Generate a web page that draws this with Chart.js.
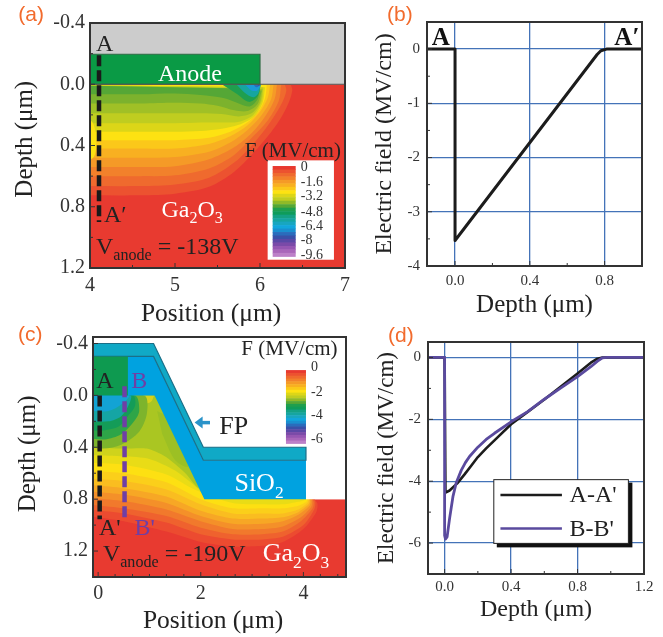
<!DOCTYPE html>
<html>
<head>
<meta charset="utf-8">
<title>Ga2O3 field profiles</title>
<script src="https://cdn.jsdelivr.net/npm/chart.js@4/dist/chart.umd.js"></script>
<style>
  html, body { margin: 0; padding: 0; background: #fff; }
  #page { position: relative; width: 663px; height: 637px; overflow: hidden; }
  canvas { position: absolute; filter: blur(0.4px); }
</style>
</head>
<body>
<div id="page">
  <canvas id="a" width="360" height="332" style="left:0;top:0"></canvas>
  <canvas id="b" width="303" height="325" style="left:360px;top:0"></canvas>
  <canvas id="c" width="360" height="317" style="left:0;top:320px"></canvas>
  <canvas id="d" width="303" height="317" style="left:360px;top:320px"></canvas>
</div>
<script>
  var SERIF = "'Liberation Serif'";
  var INK = "#222";
  var RED = "#e83a30";
  var GRID_BLUE = "#4473b8";

  // ---- ticks -------------------------------------------------------------
  var A_X_MAJOR = [4, 5, 6, 7];
  var A_X_MINOR = [4.5, 5.5, 6.5];
  var A_Y_MAJOR = [-0.4, 0, 0.4, 0.8, 1.2];
  var A_Y_MINOR = [-0.2, 0.2, 0.6, 1.0];
  var B_X_MAJOR = [0, 0.4, 0.8];
  var B_X_MINOR = [0.2, 0.6, 1.0];
  var B_Y_MAJOR = [0, -1, -2, -3, -4];
  var B_Y_MINOR = [-0.5, -1.5, -2.5, -3.5];
  var C_X_MAJOR = [0, 2, 4];
  var C_X_MINOR = [0.33, 0.67, 1, 1.33, 1.67, 2.33, 2.67, 3, 3.33, 3.67, 4.33, 4.67];
  var C_Y_MAJOR = [-0.4, 0, 0.4, 0.8, 1.2];
  var C_Y_MINOR = [-0.2, 0.2, 0.6, 1.0];
  var D_X_MAJOR = [0, 0.4, 0.8, 1.2];
  var D_X_MINOR = [0.2, 0.6, 1.0];
  var D_Y_MAJOR = [0, -2, -4, -6];
  var D_Y_MINOR = [-1, -3, -5];

  // ---- line profiles -----------------------------------------------------
  var B_PROFILE = [[-0.15, 0], [0, 0], [0, -3.53], [0.76, -0.1], [0.78, -0.03], [0.81, 0], [1.0, 0]];
  var D_PROFILE_A = [[-0.1, 0], [0, 0], [0.005, -4.37], [0.03, -4.3], [0.076, -4.07], [0.12, -3.78], [0.16, -3.5], [0.2, -3.22], [0.25, -2.94], [0.3, -2.68], [0.4, -2.16], [0.5, -1.76], [0.6, -1.36], [0.7, -0.94], [0.8, -0.52], [0.88, -0.17], [0.92, -0.04], [0.95, 0], [1.2, 0]];
  var D_PROFILE_B = [[-0.1, 0], [0, 0], [0, -5.75], [0.005, -5.87], [0.015, -5.8], [0.03, -5.2], [0.05, -4.5], [0.07, -4.05], [0.1, -3.65], [0.125, -3.4], [0.15, -3.2], [0.2, -2.9], [0.25, -2.65], [0.3, -2.45], [0.4, -2.08], [0.5, -1.75], [0.6, -1.35], [0.7, -0.98], [0.8, -0.62], [0.88, -0.3], [0.92, -0.12], [0.95, -0.01], [0.98, 0], [1.2, 0]];

  // ---- cut lines ---------------------------------------------------------
  var A_CUT = [[4.106, -0.19], [4.106, 0.9]];
  var C_CUT_A = [[0.03, 0], [0.03, 0.954]];
  var C_CUT_B = [[0.515, -0.07], [0.515, 0.954]];

  // ---- device outlines ---------------------------------------------------
  var A_AIR = [[4, -0.4], [7, -0.4], [7, 0], [4, 0]];
  var A_ANODE = [[4, -0.196], [6, -0.196], [6, 0], [4, 0], [4, -0.196]];
  var C_SUBSTRATE = [[-0.1, 0], [1.1, 0], [2.05, 0.8], [4.83, 0.8], [4.83, 1.4], [-0.1, 1.4]];
  var C_AIR = [[-0.1, -0.45], [4.83, -0.45], [4.83, 0.8], [4.05, 0.8], [4.05, 0.4], [2.05, 0.4], [1.08, -0.4], [-0.1, -0.4]];
  var C_OXIDE = [[-0.1, -0.3], [1.08, -0.3], [2.05, 0.5], [4.05, 0.5], [4.05, 0.8], [2.07, 0.8], [1.1, 0], [-0.1, 0]];
  var C_PLATE = [[-0.1, -0.4], [1.08, -0.4], [2.05, 0.4], [4.05, 0.4], [4.05, 0.5], [2.05, 0.5], [1.08, -0.3], [-0.1, -0.3], [-0.1, -0.4]];
  var C_ANODE = [[-0.1, -0.3], [0.58, -0.3], [0.58, 0], [-0.1, 0]];

  // ---- panel (a) field contours, outer to inner ----------------------------
  var A_BANDS = [
    [[3, 0.725], [3.8, 0.725], [4.6, 0.725], [5, 0.715], [5.4, 0.67], [5.7, 0.57], [6.0, 0.4], [6.2, 0.26], [6.33, 0.13], [6.38, 0.04], [6.36, 0]],
    [[3, 0.665], [3.8, 0.665], [4.6, 0.665], [5, 0.655], [5.4, 0.61], [5.7, 0.51], [5.95, 0.37], [6.13, 0.24], [6.26, 0.12], [6.31, 0.04], [6.29, 0]],
    [[3, 0.6], [3.8, 0.6], [4.6, 0.6], [5, 0.595], [5.4, 0.55], [5.7, 0.46], [5.92, 0.34], [6.1, 0.23], [6.22, 0.11], [6.25, 0]],
    [[3, 0.54], [3.8, 0.54], [4.6, 0.54], [5, 0.535], [5.4, 0.49], [5.7, 0.41], [5.9, 0.32], [6.06, 0.21], [6.17, 0.1], [6.2, 0]],
    [[3, 0.48], [3.8, 0.48], [4.6, 0.48], [5, 0.475], [5.4, 0.44], [5.65, 0.38], [5.85, 0.3], [6.02, 0.2], [6.13, 0.1], [6.16, 0]],
    [[3, 0.42], [3.8, 0.42], [4.6, 0.42], [5, 0.42], [5.4, 0.39], [5.65, 0.34], [5.85, 0.27], [6.0, 0.18], [6.09, 0.09], [6.12, 0]],
    [[3, 0.365], [3.8, 0.365], [4.6, 0.365], [5, 0.365], [5.4, 0.35], [5.65, 0.31], [5.85, 0.25], [5.98, 0.18], [6.06, 0.09], [6.08, 0]],
    [[3, 0.31], [3.8, 0.31], [4.6, 0.31], [5, 0.31], [5.3, 0.305], [5.55, 0.29], [5.75, 0.265], [5.93, 0.21], [6.03, 0.12], [6.06, 0.02]],
    [[3, 0.255], [3.8, 0.255], [4.6, 0.255], [5, 0.255], [5.3, 0.25], [5.55, 0.25], [5.75, 0.245], [5.92, 0.2], [6.02, 0.11], [6.04, 0.02]],
    [[3, 0.19], [3.8, 0.19], [4.6, 0.19], [5, 0.19], [5.3, 0.19], [5.55, 0.195], [5.75, 0.21], [5.9, 0.19], [6.0, 0.12], [6.03, 0.03]],
    [[3, 0.125], [3.8, 0.125], [4.6, 0.125], [5, 0.12], [5.3, 0.125], [5.5, 0.14], [5.7, 0.17], [5.85, 0.175], [5.97, 0.13], [6.02, 0.04]],
    [[3, 0.065], [3.8, 0.065], [4.6, 0.065], [5, 0.06], [5.3, 0.07], [5.57, 0.09], [5.75, 0.125], [5.88, 0.145], [5.97, 0.1], [6.0, 0.03]]
  ];
  var A_BAND_COLORS = ["#ec5230", "#ef6a2e", "#f2812b", "#f59a27", "#f8b021", "#fbc81a", "#fde212", "#dcd618", "#bfcd20", "#a0c026", "#7cb22d", "#55a736"];
  var A_EDGE = [[3.9, 0.2], [4.03, 0.25], [4.07, 0.35], [4.05, 0.47], [3.9, 0.52]];
  var A_SPOTS = [
    [[5.55, 0], [5.72, 0.06], [5.87, 0.115], [5.97, 0.08], [6.01, 0]],
    [[5.72, 0], [5.82, 0.055], [5.92, 0.085], [5.98, 0.06], [6.01, 0]],
    [[5.82, 0], [5.9, 0.04], [5.97, 0.04], [6.01, 0]],
    [[5.92, 0], [5.96, 0.02], [6.01, 0]],
    [[5.96, 0], [5.985, 0.012], [6.01, 0]]
  ];
  var A_SPOT_COLORS = ["#1f9f4e", "#16a5a0", "#1a9ad8", "#2a6cbc", "#3a50a8"];

  // ---- panel (c) field contours, outer to inner ----------------------------
  var C_BANDS = [
    [[-0.2, 0.93], [0.5, 0.97], [1.33, 1.05], [2, 1.13], [2.62, 1.165], [3.2, 1.16], [3.6, 1.13], [4.0, 1.03], [4.25, 0.9], [4.27, 0.83], [4.1, 0.76]],
    [[-0.2, 0.88], [0.5, 0.91], [1.33, 0.98], [2, 1.07], [2.62, 1.11], [3.2, 1.11], [3.6, 1.09], [4.0, 1.0], [4.21, 0.88], [4.23, 0.82], [4.1, 0.76]],
    [[-0.2, 0.84], [0.5, 0.87], [1.33, 0.93], [2, 1.02], [2.62, 1.07], [3.2, 1.07], [3.6, 1.05], [3.95, 0.97], [4.18, 0.87], [4.2, 0.82], [4.1, 0.76]],
    [[-0.2, 0.79], [0.5, 0.815], [1.33, 0.88], [2, 0.97], [2.62, 1.03], [3.2, 1.03], [3.6, 1.01], [3.95, 0.94], [4.15, 0.86], [4.17, 0.81], [4.1, 0.76]],
    [[-0.2, 0.74], [0.5, 0.765], [1.33, 0.83], [2, 0.93], [2.62, 0.99], [3.2, 0.99], [3.6, 0.97], [3.9, 0.92], [4.12, 0.85], [4.14, 0.81], [4.05, 0.76]],
    [[-0.2, 0.69], [0.5, 0.715], [1.33, 0.78], [2, 0.89], [2.62, 0.95], [3.2, 0.95], [3.6, 0.94], [3.9, 0.9], [4.1, 0.84], [4.12, 0.81], [4.05, 0.76]],
    [[-0.2, 0.64], [0.5, 0.66], [1.33, 0.725], [2, 0.84], [2.62, 0.91], [3.2, 0.91], [3.6, 0.91], [3.9, 0.88], [4.08, 0.83], [4.1, 0.8], [4.05, 0.76]],
    [[-0.2, 0.58], [0.5, 0.6], [1.33, 0.67], [2, 0.8], [2.62, 0.87], [3.2, 0.87], [3.6, 0.87], [3.9, 0.85], [4.06, 0.82], [4.07, 0.8], [4.05, 0.76]],
    [[-0.2, 0.52], [0.5, 0.535], [1.33, 0.61], [1.9, 0.73], [2.62, 0.83], [3.2, 0.84], [3.6, 0.84], [3.9, 0.82], [4.05, 0.8], [4.05, 0.76]],
    [[-0.2, 0.46], [0.5, 0.47], [1.0, 0.49], [1.5, 0.58], [1.95, 0.72], [2.1, 0.78]],
    [[-0.2, 0.4], [0.5, 0.41], [0.95, 0.41], [1.3, 0.47], [1.7, 0.6], [2.0, 0.72]]
  ];
  var C_BAND_COLORS = ["#ec4b30", "#ef622e", "#f1792c", "#f49029", "#f7a725", "#fabd20", "#fbcf1a", "#fde012", "#e9dc16", "#cfd31c", "#aac622"];
  var C_BAND_CLOSE = [[3, 0.6], [2.05, 0.6], [1.1, -0.15], [-0.2, -0.15]];
  var C_SPOTS = [
    [[0.7, 0], [0.88, 0.06], [1.03, 0.05], [1.09, 0]],
    [[-0.2, 0.4], [0.1, 0.41], [0.45, 0.38], [0.8, 0.28], [0.95, 0.14], [0.9, 0], [-0.2, 0]],
    [[-0.2, 0.33], [0.13, 0.34], [0.45, 0.3], [0.7, 0.2], [0.8, 0.12], [0.72, 0], [-0.2, 0]],
    [[-0.2, 0.27], [0.1, 0.27], [0.4, 0.24], [0.6, 0.15], [0.72, 0.08], [0.68, 0], [-0.2, 0]],
    [[-0.2, 0.2], [0.2, 0.2], [0.45, 0.16], [0.6, 0.07], [0.63, 0], [-0.2, 0]],
    [[-0.2, 0.12], [0.2, 0.12], [0.45, 0.07], [0.6, 0], [-0.2, 0]]
  ];
  var C_SPOT_COLORS = ["#d8d21a", "#7db42c", "#2ea548", "#149c58", "#15a5a4", "#13a3d4"];
  var C_SLOPE_PATCH = [[1.15, 0.12], [1.4, 0.18], [1.6, 0.4], [1.75, 0.55], [1.5, 0.5], [1.25, 0.3]];

  // ---- colour scale ------------------------------------------------------
  var SCALE_COLORS = ["#e8392f", "#ec5230", "#ef6a2e", "#f2812b", "#f59a27", "#f8b021", "#fbc81a", "#fde212", "#dcd618", "#bfcd20", "#90ba28", "#55a736", "#1f9f4e", "#0f9c5a", "#14a184", "#16a5a0", "#18a6c0", "#12a6dc", "#1a8fd0", "#2a6cbc", "#3a50a8", "#5a48a6", "#7a4aa8", "#9556b2", "#a966ba", "#bd80c8"];
  var A_SCALE_LABELS = ["0", "-1.6", "-3.2", "-4.8", "-6.4", "-8", "-9.6"];
  var C_SCALE_LABELS = ["0", "-2", "-4", "-6"];

  function pts(list) {
    return list.map(function (p) { return { x: p[0], y: p[1] }; });
  }

  // ---- dataset helpers ---------------------------------------------------
  function poly(list, color, tension, extra) {
    var d = {
      data: pts(list), showLine: true, fill: "shape", backgroundColor: color,
      borderColor: color, borderWidth: 0, pointRadius: 0, tension: tension
    };
    for (var k in extra) d[k] = extra[k];
    return d;
  }

  function stroke(list, color, width, dash) {
    return {
      data: pts(list), showLine: true, fill: false, borderColor: color, borderWidth: width,
      borderDash: dash || [], pointRadius: 0, tension: 0, borderCapStyle: "butt", borderJoinStyle: "round"
    };
  }

  // first dataset ends up at the bottom
  function stack(list) {
    list.forEach(function (d, i) { d.order = list.length - i; });
    return list;
  }

  // ---- decorations drawn through the chart's scales ------------------------
  function drawRuns(ctx, sx, sy, item) {
    var xp = sx.getPixelForValue(item.x);
    var yp = sy.getPixelForValue(item.y);
    var size = item.size;
    ctx.fillStyle = item.color || INK;
    ctx.textAlign = "left";
    ctx.textBaseline = "alphabetic";
    item.runs.forEach(function (r) {
      var small = r[1] === 1;
      var fam = item.family || SERIF;
      ctx.font = (item.weight ? item.weight + " " : "") + (small ? size * 0.67 : size) + "px " + fam;
      ctx.fillText(r[0], xp, yp + (small ? size * 0.27 : 0));
      xp += ctx.measureText(r[0]).width;
    });
  }

  function decor(cfg) {
    return {
      id: "decor",
      afterDatasetsDraw: function (chart) {
        var ctx = chart.ctx, sx = chart.scales.x, sy = chart.scales.y, area = chart.chartArea;
        ctx.save();
        if (cfg.scale) {
          var s = cfg.scale;
          if (s.box) {
            ctx.fillStyle = "#fff";
            ctx.fillRect(sx.getPixelForValue(s.box[0]), sy.getPixelForValue(s.box[1]),
              sx.getPixelForValue(s.box[2]) - sx.getPixelForValue(s.box[0]),
              sy.getPixelForValue(s.box[3]) - sy.getPixelForValue(s.box[1]));
          }
          var left = sx.getPixelForValue(s.x0), right = sx.getPixelForValue(s.x1);
          var top = sy.getPixelForValue(s.y0), bottom = sy.getPixelForValue(s.y1);
          var rh = (bottom - top) / SCALE_COLORS.length;
          SCALE_COLORS.forEach(function (c, i) {
            ctx.fillStyle = c;
            ctx.fillRect(left, top + i * rh, right - left, rh + 0.5);
          });
          ctx.font = s.size + "px " + SERIF;
          ctx.fillStyle = "#333";
          ctx.textAlign = "left";
          ctx.textBaseline = "middle";
          s.labels.forEach(function (t, i) {
            ctx.fillText(t, sx.getPixelForValue(s.lx), sy.getPixelForValue(s.ly[i]));
          });
        }
        if (cfg.arrow) {
          var a = cfg.arrow;
          var tx = sx.getPixelForValue(a.x1), ty = sy.getPixelForValue(a.y);
          var ex = sx.getPixelForValue(a.x0);
          ctx.strokeStyle = a.color;
          ctx.lineWidth = 3.5;
          ctx.beginPath(); ctx.moveTo(tx + 6, ty); ctx.lineTo(ex, ty); ctx.stroke();
          ctx.fillStyle = a.color;
          ctx.beginPath(); ctx.moveTo(tx, ty); ctx.lineTo(tx + 8, ty - 6); ctx.lineTo(tx + 8, ty + 6); ctx.closePath(); ctx.fill();
        }
        if (cfg.legend) {
          var l = cfg.legend;
          var bx = sx.getPixelForValue(l.box[0]), by = sy.getPixelForValue(l.box[1]);
          var bw = sx.getPixelForValue(l.box[2]) - bx, bh = sy.getPixelForValue(l.box[3]) - by;
          ctx.fillStyle = "#111";
          ctx.fillRect(bx + 3, by + 3, bw + 1, bh + 1);
          ctx.fillStyle = "#fff";
          ctx.fillRect(bx, by, bw, bh);
          ctx.strokeStyle = "#222";
          ctx.lineWidth = 1;
          ctx.strokeRect(bx, by, bw, bh);
          l.rows.forEach(function (r) {
            var ly = sy.getPixelForValue(r.y);
            ctx.strokeStyle = r.color;
            ctx.lineWidth = 2.5;
            ctx.beginPath();
            ctx.moveTo(sx.getPixelForValue(l.x0), ly);
            ctx.lineTo(sx.getPixelForValue(l.x1), ly);
            ctx.stroke();
            ctx.font = "24px " + SERIF;
            ctx.fillStyle = INK;
            ctx.textAlign = "left";
            ctx.textBaseline = "middle";
            ctx.fillText(r.text, sx.getPixelForValue(l.tx), ly + 1);
          });
        }
        (cfg.texts || []).forEach(function (t) { drawRuns(ctx, sx, sy, t); });

        // inward tick marks and the frame
        ctx.strokeStyle = "#333";
        ctx.lineWidth = 1;
        sx.ticks.forEach(function (t) {
          var p = sx.getPixelForValue(t.value), len = t.major ? 5 : 3;
          ctx.beginPath(); ctx.moveTo(p, area.bottom); ctx.lineTo(p, area.bottom - len); ctx.stroke();
        });
        sy.ticks.forEach(function (t) {
          var p = sy.getPixelForValue(t.value), len = t.major ? 5 : 3;
          ctx.beginPath(); ctx.moveTo(area.left, p); ctx.lineTo(area.left + len, p); ctx.stroke();
        });
        ctx.lineWidth = 2;
        ctx.strokeRect(area.left, area.top, area.right - area.left, area.bottom - area.top);
        ctx.restore();
      }
    };
  }

  // ---- one panel ---------------------------------------------------------
  function axis(p, major, minor, digits, title, titleSize, tickSize, titlePad, tickPad) {
    return {
      type: "linear",
      min: p[0],
      max: p[1],
      reverse: !!p[2],
      border: { display: false },
      grid: {
        drawTicks: false,
        display: true,
        lineWidth: 1.3,
        color: function (c) {
          return c.tick && c.tick.major && p[3] ? GRID_BLUE : "rgba(0,0,0,0)";
        }
      },
      ticks: {
        autoSkip: false, maxRotation: 0, minRotation: 0, padding: tickPad, color: "#333",
        font: { family: SERIF, size: tickSize },
        callback: function (v) {
          return major.indexOf(v) === -1 ? "" : v.toFixed(digits);
        }
      },
      afterBuildTicks: function (s) {
        s.ticks = major.map(function (v) { return { value: v, major: true }; })
          .concat(minor.map(function (v) { return { value: v, major: false }; }));
      },
      title: {
        display: true, text: title, color: INK, padding: titlePad,
        font: { family: SERIF, size: titleSize, lineHeight: 1 }
      }
    };
  }

  function panel(id, box, xAxis, yAxis, datasets, cfg) {
    var canvas = document.getElementById(id);
    xAxis.afterFit = function (s) { s.height = canvas.height - box.bottom; };
    yAxis.afterFit = function (s) { s.width = box.left; };
    return new Chart(canvas, {
      type: "scatter",
      data: { datasets: stack(datasets) },
      options: {
        responsive: false,
        animation: false,
        events: [],
        layout: { padding: { top: box.top, right: canvas.width - box.right, left: 0, bottom: 0 } },
        plugins: { legend: { display: false }, tooltip: { enabled: false }, title: { display: false } },
        scales: { x: xAxis, y: yAxis }
      },
      plugins: [decor(cfg)]
    });
  }

  var ORANGE = { color: "#f26b2d", family: "'Liberation Sans'", size: 21 };
  function tag(text, x, y) {
    return { runs: [[text]], x: x, y: y, color: ORANGE.color, family: ORANGE.family, size: ORANGE.size };
  }
  function label(runs, x, y, size, color, weight) {
    return { runs: runs, x: x, y: y, size: size, color: color, weight: weight };
  }

  // ---- (a) ---------------------------------------------------------------
  var aSets = [poly([[4, 0], [7, 0], [7, 1.2], [4, 1.2]], RED, 0)];
  A_BANDS.forEach(function (b, i) { aSets.push(poly([[3, 0]].concat(b), A_BAND_COLORS[i], 0.3)); });
  A_SPOTS.forEach(function (b, i) { aSets.push(poly(b, A_SPOT_COLORS[i], 0.3)); });
  aSets.push(poly(A_EDGE, "#fde212", 0.3));
  aSets.push(poly(A_AIR, "#cccccc", 0));
  aSets.push(poly(A_ANODE, "#0a9a45", 0, { borderColor: "#2f6b45", borderWidth: 1.2 }));
  aSets.push(stroke([[4, 0], [7, 0]], "#555", 1.2));
  aSets.push(stroke(A_CUT, "#1a1a1a", 4.5, [11, 4]));
  panel("a", { left: 90, right: 345, top: 23, bottom: 268 },
    axis([4, 7], A_X_MAJOR, A_X_MINOR, 0, "Position (μm)\u00a0\u00a0", 25.5, 20, { top: 0, bottom: 5 }, 6),
    axis([-0.4, 1.2, true], A_Y_MAJOR, A_Y_MINOR, 1, "\u00a0\u00a0Depth (μm)", 25, 20, { top: 13, bottom: 0 }, 5),
    aSets,
    {
      scale: {
        box: [6.09, 0.497, 6.87, 1.146], x0: 6.149, x1: 6.42, y0: 0.534, y1: 1.124, size: 14,
        labels: A_SCALE_LABELS, lx: 6.48, ly: [0.54, 0.64, 0.735, 0.835, 0.928, 1.02, 1.12]
      },
      texts: [
        tag("(a)", 3.157, -0.414),
        label([["A"]], 4.07, -0.215, 24),
        label([["Anode"]], 4.8, -0.022, 24, "#fff"),
        label([["F (MV/cm)"]], 5.82, 0.475, 21),
        label([["A′"]], 4.165, 0.9, 24),
        label([["Ga"], ["2", 1], ["O"], ["3", 1]], 4.84, 0.867, 24, "#fff"),
        label([["V"], ["anode", 1], [" = -138V"]], 4.07, 1.106, 24)
      ]
    });

  // ---- (b) ---------------------------------------------------------------
  panel("b", { left: 67, right: 282, top: 22, bottom: 266 },
    axis([-0.15, 1.0, false, true], B_X_MAJOR, B_X_MINOR, 1, "Depth (μm)", 25, 15, { top: 0, bottom: 7 }, 6),
    axis([-4, 0.5, false, true], B_Y_MAJOR, B_Y_MINOR, 0, "Electric field (MV/cm)", 24, 15, { top: 13, bottom: 0 }, 7),
    [stroke(B_PROFILE, "#1c1c1c", 3)],
    {
      texts: [
        tag("(b)", -0.364, 0.51),
        label([["A"]], -0.125, 0.083, 25, "#111", "bold"),
        label([["A′"]], 0.852, 0.083, 25, "#111", "bold")
      ]
    });

  // ---- (c) ---------------------------------------------------------------
  var cSets = [poly(C_SUBSTRATE, RED, 0)];
  C_BANDS.forEach(function (b, i) { cSets.push(poly(b.concat(C_BAND_CLOSE), C_BAND_COLORS[i], 0.25)); });
  cSets.push(poly(C_SLOPE_PATCH, "#9cc024", 0.3));
  C_SPOTS.forEach(function (b, i) { cSets.push(poly(b, C_SPOT_COLORS[i], 0.3)); });
  cSets.push(poly(C_AIR, "#ffffff", 0));
  cSets.push(poly(C_OXIDE, "#00a2e0", 0));
  cSets.push(poly(C_PLATE, "#10a9c6", 0, { borderColor: "#1b6f88", borderWidth: 1.2 }));
  cSets.push(poly(C_ANODE, "#0e9a50", 0));
  cSets.push(stroke(C_CUT_A, "#1a1a1a", 4.5, [11, 4]));
  cSets.push(stroke(C_CUT_B, "#6f3fa5", 4.5, [11, 4]));
  panel("c", { left: 93, right: 346, top: 17, bottom: 257 },
    axis([-0.1, 4.83], C_X_MAJOR, C_X_MINOR, 0, "Position (μm)\u00a0\u00a0", 25.5, 20, { top: 0, bottom: 3 }, 5),
    axis([-0.45, 1.4, true], C_Y_MAJOR, C_Y_MINOR, 1, "\u00a0Depth (μm)", 25, 20, { top: 16, bottom: 0 }, 5),
    cSets,
    {
      scale: {
        x0: 3.66, x1: 4.05, y0: -0.195, y1: 0.37, size: 14,
        labels: C_SCALE_LABELS, lx: 4.15, ly: [-0.218, -0.025, 0.154, 0.338]
      },
      arrow: { x0: 2.18, x1: 1.88, y: 0.21, color: "#2a93c9" },
      texts: [
        tag("(c)", -1.56, -0.418),
        label([["F (MV/cm)"]], 2.79, -0.31, 21),
        label([["FP"]], 2.36, 0.3, 26),
        label([["A"]], -0.035, -0.054, 24),
        label([["B"]], 0.645, -0.054, 24, "#6f3fa5"),
        label([["SiO"], ["2", 1]], 2.656, 0.736, 26, "#fff"),
        label([["A'"]], 0.016, 1.077, 24),
        label([["B'"]], 0.71, 1.077, 24, "#6f3fa5"),
        label([["V"], ["anode", 1], [" = -190V"]], 0.093, 1.275, 24),
        label([["Ga"], ["2", 1], ["O"], ["3", 1]], 3.206, 1.275, 26, "#fff")
      ]
    });

  // ---- (d) ---------------------------------------------------------------
  panel("d", { left: 68, right: 284, top: 22, bottom: 254 },
    axis([-0.1, 1.2, false, true], D_X_MAJOR, D_X_MINOR, 1, "Depth (μm)", 24, 15, { top: 0, bottom: 15 }, 4),
    axis([-7, 0.5, false, true], D_Y_MAJOR, D_Y_MINOR, 0, "Electric field (MV/cm)", 23, 15, { top: 15, bottom: 0 }, 7),
    [stroke(D_PROFILE_A, "#1c1c1c", 2.6), stroke(D_PROFILE_B, "#5a4a9e", 2.8)],
    {
      legend: {
        box: [0.296, -3.95, 1.106, -6.01], x0: 0.336, x1: 0.706, tx: 0.752,
        rows: [{ y: -4.45, color: "#1c1c1c", text: "A-A'" }, { y: -5.53, color: "#5a4a9e", text: "B-B'" }]
      },
      texts: [tag("(d)", -0.34, 0.49)]
    });
</script>
</body>
</html>
